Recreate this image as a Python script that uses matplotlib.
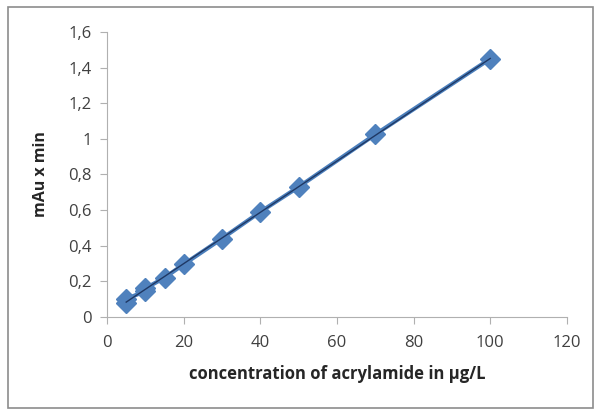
import matplotlib
matplotlib.use("Agg")
import matplotlib.pyplot as plt
import numpy as np
from matplotlib.patches import Rectangle

conc = [5, 5, 10, 10, 15, 20, 30, 40, 50, 70, 100]
area = [0.08, 0.10, 0.145, 0.16, 0.22, 0.295, 0.44, 0.59, 0.73, 1.025, 1.45]
xticks = [0, 20, 40, 60, 80, 100, 120]
yticks = [0, 0.2, 0.4, 0.6, 0.8, 1.0, 1.2, 1.4, 1.6]
ytick_labels = ["0", "0,2", "0,4", "0,6", "0,8", "1", "1,2", "1,4", "1,6"]

plt.rcParams['font.family'] = ['Open Sans', 'DejaVu Sans']

fig = plt.figure(figsize=(5.98, 4.11), dpi=100)
fig.patches.append(Rectangle((0.013, 0.008), 0.978, 0.975, transform=fig.transFigure,
                             fill=False, edgecolor='#8c8c8c', linewidth=1.2))
ax = fig.add_axes([0.179, 0.229, 0.769, 0.693])

ax.plot(conc, area, color='#4a7ebb', linewidth=3, marker='D', markersize=10,
        markerfacecolor='#4f81bd', markeredgecolor='#4f81bd', zorder=3)
k, b = np.polyfit(conc, area, 1)
xs = np.array([min(conc), max(conc)])
ax.plot(xs, k * xs + b, color='#1f3864', linewidth=1.0, zorder=4)

ax.set_xlim(0, 120)
ax.set_ylim(0, 1.6)
ax.set_xticks(xticks)
ax.set_yticks(yticks)
ax.set_yticklabels(ytick_labels)
for s in ['top', 'right']:
    ax.spines[s].set_visible(False)
for s in ['left', 'bottom']:
    ax.spines[s].set_color('#b0b0b0')
ax.tick_params(axis='both', colors='#b0b0b0', labelcolor='#404040', labelsize=12,
               length=5, direction='out')
ax.tick_params(axis='x', pad=8)
ax.tick_params(axis='y', pad=6)
ax.set_xlabel('concentration of acrylamide in µg/L', fontsize=12, fontweight='bold',
              color='#262626', labelpad=10)
ax.set_ylabel('mAu x min', fontsize=11.5, fontweight='bold', color='#262626', labelpad=14)

fig.savefig('out.png', dpi=100)
